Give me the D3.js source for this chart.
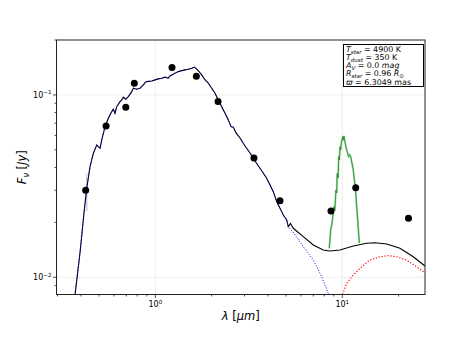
<!DOCTYPE html>
<html><head><meta charset="utf-8">
<script src="https://cdn.jsdelivr.net/npm/d3@7"></script>
<style>body{margin:0;background:#fff}svg{display:block}text{font-family:"DejaVu Sans",sans-serif;fill:#000}</style>
</head><body><svg id="c" width="452" height="339"></svg>
<script>
// Photometry
const photWave = [0.424, 0.545, 0.695, 0.772, 1.228, 1.657, 2.165, 3.37, 4.64, 8.70, 11.8, 22.6];
const photFlux = [0.0300, 0.0676, 0.0856, 0.1159, 0.1412, 0.1266, 0.0919, 0.0451, 0.0263, 0.0231, 0.0310, 0.0211];
const photErr  = [0.007, 0, 0, 0, 0, 0, 0, 0, 0, 0, 0, 0];
// Stellar model spectrum
const starWave = [0.3674,0.3958,0.4157,0.4296,0.4474,0.4660,0.4860,0.4957,0.5062,0.5169,0.5383,0.5607,0.5845,0.5962,0.6088,0.6217,0.6475,0.6612,0.6744,0.6947,0.7172,0.7478,0.7628,0.7953,0.8283,0.8628,0.8808,0.8994,0.9566,0.9963,1.0376,1.082,1.127,1.174,1.198,1.274,1.327,1.384,1.442,1.501,1.566,1.617,1.665,1.713,1.770,1.845,1.920,2.003,2.086,2.173,2.265,2.359,2.457,2.541,2.613,2.702,2.838,3.018,3.210,3.413,3.630,3.942,4.276,4.459,4.643,4.836,5.043,5.142,5.449,6.186,6.998,7.759,8.418,8.703];
const starFlux = [0.00723,0.01376,0.02282,0.03078,0.04044,0.04789,0.05316,0.05204,0.05099,0.05664,0.06700,0.07452,0.08098,0.08348,0.07936,0.08624,0.09188,0.09389,0.09714,0.09471,0.09788,0.1042,0.1088,0.1075,0.1088,0.1135,0.1168,0.1183,0.1193,0.1209,0.1224,0.1235,0.1251,0.1235,0.1271,0.1315,0.1342,0.1359,0.1371,0.1384,0.1401,0.1419,0.1384,0.1342,0.1288,0.1209,0.1159,0.1088,0.1022,0.09389,0.08624,0.07936,0.07293,0.06700,0.06649,0.06187,0.05808,0.05250,0.04807,0.04345,0.03962,0.03491,0.02949,0.02599,0.02390,0.02197,0.02062,0.01895,0.01772,0.01472,0.01244,0.01008,0.00817,0.00751];
// Star + dust total (long-wavelength part; short part follows the star spectrum)
const totalSplitWave = 5.142;
const totalTailWave = [5.284,5.470,6.186,6.998,7.914,8.596,9.721,11.45,13.50,14.96,17.28,20.35,23.98,27.69];
const totalTailFlux = [0.01973,0.01857,0.01670,0.01504,0.01412,0.01394,0.01412,0.01485,0.01537,0.01548,0.01523,0.01442,0.01297,0.01153];
// Dust blackbody
const dustWave = [9.78,10.56,11.45,12.43,14.06,15.91,17.62,19.54,22.10,25.00,27.69];
const dustFlux = [0.00751,0.00927,0.01029,0.01120,0.01244,0.01297,0.01314,0.01297,0.01244,0.01143,0.01059];
// IR spectrum
const specWave = [8.52,8.67,8.80,8.89,9.03,9.12,9.25,9.33,9.40,9.50,9.57,9.65,9.72,9.80,9.88,10.05,10.12,10.21,10.30,10.38,10.50,10.63,10.72,10.82,10.95,11.09,11.27,11.45,11.69,11.80,11.94,12.13,12.33];
const specFlux = [0.0144,0.0182,0.0195,0.0215,0.0244,0.0232,0.0301,0.0290,0.0372,0.0350,0.0459,0.0440,0.0520,0.0500,0.0543,0.0590,0.0565,0.0596,0.0560,0.0543,0.0510,0.0489,0.0470,0.0459,0.0470,0.0459,0.0422,0.0388,0.0321,0.0290,0.0244,0.0198,0.0154];
// Axes
const xDomain = [0.296, 27.7];
const yDomain = [0.00805, 0.2];
const xMajorTicks = [1, 10];
const xMajorLabels = ["0", "1"];
const yMajorTicks = [0.01, 0.1];
const yMajorLabels = ["\u22122", "\u22121"];
const xMinorTicks = [0.3,0.4,0.5,0.6,0.7,0.8,0.9,2,3,4,5,6,7,8,9,20];
const yMinorTicks = [0.009,0.02,0.03,0.04,0.05,0.06,0.07,0.08,0.09,0.2];

const svg = d3.select("#c");
const L = 56.5, R = 425, T = 40, B = 294.5;
const x = d3.scaleLog().domain(xDomain).range([L, R]);
const y = d3.scaleLog().domain(yDomain).range([B, T]);

svg.append("defs").append("clipPath").attr("id","clip")
  .append("rect").attr("x",L).attr("y",T).attr("width",R-L).attr("height",B-T);

// grid
const g = svg.append("g");
g.selectAll(".gx").data(xMajorTicks).enter().append("line")
  .attr("x1",d=>x(d)).attr("x2",d=>x(d)).attr("y1",T).attr("y2",B)
  .attr("stroke","#ebebeb").attr("stroke-width",0.8);
g.selectAll(".gy").data(yMajorTicks).enter().append("line")
  .attr("y1",d=>y(d)).attr("y2",d=>y(d)).attr("x1",L).attr("x2",R)
  .attr("stroke","#ebebeb").attr("stroke-width",0.8);

const plot = svg.append("g").attr("clip-path","url(#clip)");
const line = d3.line().x(d=>x(d[0])).y(d=>y(d[1]));

const starPts = starWave.map((w,i)=>[w,starFlux[i]]);
const totalPts = starPts.filter(p=>p[0]<=totalSplitWave).concat(totalTailWave.map((w,i)=>[w,totalTailFlux[i]]));
const dustPts = dustWave.map((w,i)=>[w,dustFlux[i]]);
const specPts = specWave.map((w,i)=>[w,specFlux[i]]);

// error bars
plot.selectAll(".eb").data(photWave.map((w,i)=>[w,photFlux[i],photErr[i]]).filter(d=>d[2]>0)).enter()
  .append("line").attr("x1",d=>x(d[0])+1).attr("x2",d=>x(d[0])+1)
  .attr("y1",d=>y(d[1]-d[2])).attr("y2",d=>y(d[1]+d[2]))
  .attr("stroke","#cfcfcf").attr("stroke-width",1.5);

plot.append("path").attr("d",line(specPts)).attr("fill","none").attr("stroke","#a6d8a6").attr("stroke-width",2);
plot.append("path").attr("d",line(specPts)).attr("fill","none").attr("stroke","#1a8a1a").attr("stroke-width",0.8);
plot.append("path").attr("d",line(totalPts)).attr("fill","none").attr("stroke","#000").attr("stroke-width",1.1);
plot.append("path").attr("d",line(starPts)).attr("fill","none").attr("stroke","#0000ff").attr("stroke-width",1).attr("stroke-dasharray","1,1.7");
plot.append("path").attr("d",line(dustPts)).attr("fill","none").attr("stroke","#ff0000").attr("stroke-width",1.2).attr("stroke-dasharray","1.2,1.8");

plot.selectAll(".pt").data(photWave.map((w,i)=>[w,photFlux[i]])).enter().append("circle")
  .attr("cx",d=>x(d[0])).attr("cy",d=>y(d[1])).attr("r",3.5).attr("fill","#000");

// spines
svg.append("rect").attr("x",L).attr("y",T).attr("width",R-L).attr("height",B-T)
  .attr("fill","none").attr("stroke","#222").attr("stroke-width",1);

// ticks
const ax = svg.append("g").attr("stroke","#222").attr("stroke-width",0.8);
xMajorTicks.forEach(t=>ax.append("line").attr("x1",x(t)).attr("x2",x(t)).attr("y1",B).attr("y2",B+3.5));
xMinorTicks.forEach(t=>ax.append("line").attr("x1",x(t)).attr("x2",x(t)).attr("y1",B).attr("y2",B+2));
yMajorTicks.forEach(t=>ax.append("line").attr("y1",y(t)).attr("y2",y(t)).attr("x1",L).attr("x2",L-3.5));
yMinorTicks.forEach(t=>ax.append("line").attr("y1",y(t)).attr("y2",y(t)).attr("x1",L).attr("x2",L-2));

// tick labels
xMajorTicks.forEach((t,i)=>{
  const tx = svg.append("text").attr("x",x(t)).attr("y",307).attr("text-anchor","middle").attr("font-size",8);
  tx.append("tspan").text("10");
  tx.append("tspan").attr("dy",-3.5).attr("font-size",5.6).text(xMajorLabels[i]);
});
yMajorTicks.forEach((t,i)=>{
  const tx = svg.append("text").attr("x",L-5).attr("y",y(t)+3).attr("text-anchor","end").attr("font-size",8);
  tx.append("tspan").text("10");
  tx.append("tspan").attr("dy",-3.5).attr("font-size",5.6).text(yMajorLabels[i]);
});

// axis labels
const xl = svg.append("text").attr("x",(L+R)/2).attr("y",320).attr("text-anchor","middle").attr("font-size",11.5);
xl.append("tspan").attr("font-style","italic").text("\u03bb");
xl.append("tspan").text(" [");
xl.append("tspan").attr("font-style","italic").text("\u03bcm");
xl.append("tspan").text("]");

const yl = svg.append("text").attr("transform",`translate(26,${(T+B)/2}) rotate(-90)`).attr("text-anchor","middle").attr("font-size",11.5);
yl.append("tspan").attr("font-style","italic").text("F");
yl.append("tspan").attr("font-style","italic").attr("font-size",8).attr("dy",2.5).text("\u03bd");
yl.append("tspan").attr("dy",-2.5).text(" [");
yl.append("tspan").attr("font-style","italic").text("Jy");
yl.append("tspan").text("]");

// parameter box
const paramSym = ["T","T","A","R","\u03d6"];
const paramSub = ["star","dust","V","star",""];
const paramVal = [" = 4900 K"," = 350 K"," = 0.0 "," = 0.96 "," = 6.3049 mas"];
const paramTail = ["","","mag","R",""];
const paramTailSub = ["","","","\u2299",""];
svg.append("rect").attr("x",343.5).attr("y",44.5).attr("width",80).attr("height",42)
  .attr("fill","#fff").attr("stroke","#000").attr("stroke-width",1);
paramSym.forEach((s,i)=>{
  const t = svg.append("text").attr("x",346).attr("y",52.3+i*8.05).attr("font-size",7.9);
  t.append("tspan").attr("font-style","italic").text(s);
  if (paramSub[i]) t.append("tspan").attr("font-style","italic").attr("font-size",5.5).attr("dy",1.6).text(paramSub[i]);
  t.append("tspan").attr("dy",paramSub[i]?-1.6:0).text(paramVal[i]);
  if (paramTail[i]) t.append("tspan").attr("font-style","italic").text(paramTail[i]);
  if (paramTailSub[i]) t.append("tspan").attr("font-size",5.5).attr("dy",1.6).text(paramTailSub[i]);
});
</script></body></html>
